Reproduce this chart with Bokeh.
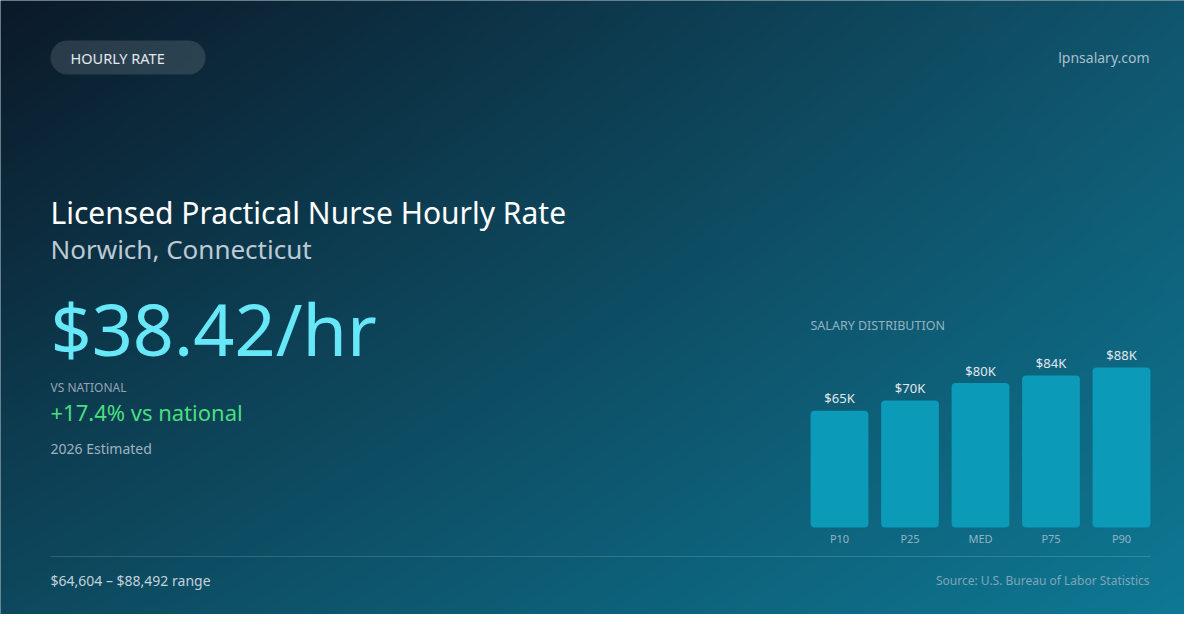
import numpy as np
from bokeh.plotting import figure
from bokeh.models import Range1d
from bokeh.core.properties import value
from bokeh.embed import file_html
from bokeh.resources import INLINE

# data
categories = ["P10", "P25", "MED", "P75", "P90"]
salaries = [64604, 70200, 79914, 84100, 88492]
hourly = "$38.42/hr"
vs_national = "+17.4% vs national"
range_text = "$64,604 \u2013 $88,492 range"

FONT = value("Noto Sans")
W, H = 1200, 630
PW, PH = 1184, 614


def Y(y):
    # reference pixels measured from the top -> plot units (up)
    return H - y


p = figure(width=PW, height=PH, x_range=Range1d(0, PW), y_range=Range1d(Y(PH), Y(0)),
           output_backend="svg", toolbar_location=None, min_border=0,
           x_axis_location=None, y_axis_location=None)
p.grid.visible = False
p.outline_line_color = None
p.background_fill_color = "#0e3a50"
p.border_fill_color = "#0e3a50"

# background gradient (bilinear between the four corners)
tl = np.array([11, 25, 40]); tr = np.array([16, 86, 110])
bl = np.array([14, 74, 96]); br = np.array([14, 122, 150])
gh, gw = 315, 600
u = (np.arange(gw) + 0.5) / gw
v = 1 - (np.arange(gh) + 0.5) / gh  # row 0 is the bottom
uu, vv = np.meshgrid(u, v)
col = (tl[None, None, :] * ((1 - uu) * (1 - vv))[..., None] + tr[None, None, :] * (uu * (1 - vv))[..., None]
       + bl[None, None, :] * ((1 - uu) * vv)[..., None] + br[None, None, :] * (uu * vv)[..., None])
img = np.empty((gh, gw), dtype=np.uint32)
view = img.view(dtype=np.uint8).reshape((gh, gw, 4))
view[..., :3] = np.clip(col, 0, 255).astype(np.uint8)
view[..., 3] = 255
p.image_rgba(image=[img], x=0, y=0, dw=W, dh=H)

BASE_SHIFT = 0.41  # svg "alphabetic" lands this many em below the given y


def txt(x, y, s, size, color, align="left"):
    p.text(x=[x], y=[Y(y - BASE_SHIFT * size)], text=[s], text_font=FONT, text_font_size=f"{size}px",
           text_color=color, text_align=align, text_baseline="alphabetic")


# pill
p.quad(left=[50], right=[205], top=[Y(40)], bottom=[Y(74)], fill_color="white", fill_alpha=0.13,
       line_color=None, border_radius=17)
txt(70, 63, "HOURLY RATE", 14.5, "#e2e8f0")
txt(1149, 63, "lpnsalary.com", 14, "#a9bfcc", align="right")

# headline block
txt(50, 224, "Licensed Practical Nurse Hourly Rate", 30, "#ffffff")
txt(50, 259, "Norwich, Connecticut", 26, "#bccad4")
txt(50, 357, hourly, 72, "#67e8f9")
txt(50, 392, "VS NATIONAL", 12, "#94a3b8")
txt(50, 421, vs_national, 22, "#4ade80")
txt(50, 454, "2026 Estimated", 14, "#9fb2c0")

# salary distribution bars
base_y, top_y = 527, 367
k = (base_y - top_y) / max(salaries)
x0, step = 839, 70.5
p.extra_x_ranges = {"bx": Range1d((0 - x0) / step, (PW - x0) / step)}
p.extra_y_ranges = {"by": Range1d((base_y - PH) / k, (base_y - 0) / k)}
idx = list(range(len(categories)))
labels = [f"${round(s / 1000)}K" for s in salaries]

txt(810, 330, "SALARY DISTRIBUTION", 12.5, "#94b3c2")
p.vbar(x=idx, top=salaries, bottom=0, width=0.82, x_range_name="bx", y_range_name="by",
       fill_color="#0b9ab8", line_color=None, border_radius=4)
p.text(x=idx, y=salaries, text=labels, x_range_name="bx", y_range_name="by",
       y_offset=-7 - BASE_SHIFT * 13,
       text_font=FONT, text_font_size="13px", text_color="#e2e8f0", text_align="center",
       text_baseline="alphabetic")
p.text(x=idx, y=[0] * len(idx), text=categories, x_range_name="bx", y_range_name="by",
       y_offset=16 - BASE_SHIFT * 11,
       text_font=FONT, text_font_size="11px", text_color="#94b3c2", text_align="center",
       text_baseline="alphabetic")

# footer
p.segment(x0=[50], x1=[1150], y0=[Y(556)], y1=[Y(556)], line_color="white", line_alpha=0.15, line_width=1)
txt(50, 586, range_text, 14, "#c3d2dc")
txt(1149, 585, "Source: U.S. Bureau of Labor Statistics", 12, "#7fa6b8", align="right")

open("out.html", "w").write(file_html(p, INLINE))
